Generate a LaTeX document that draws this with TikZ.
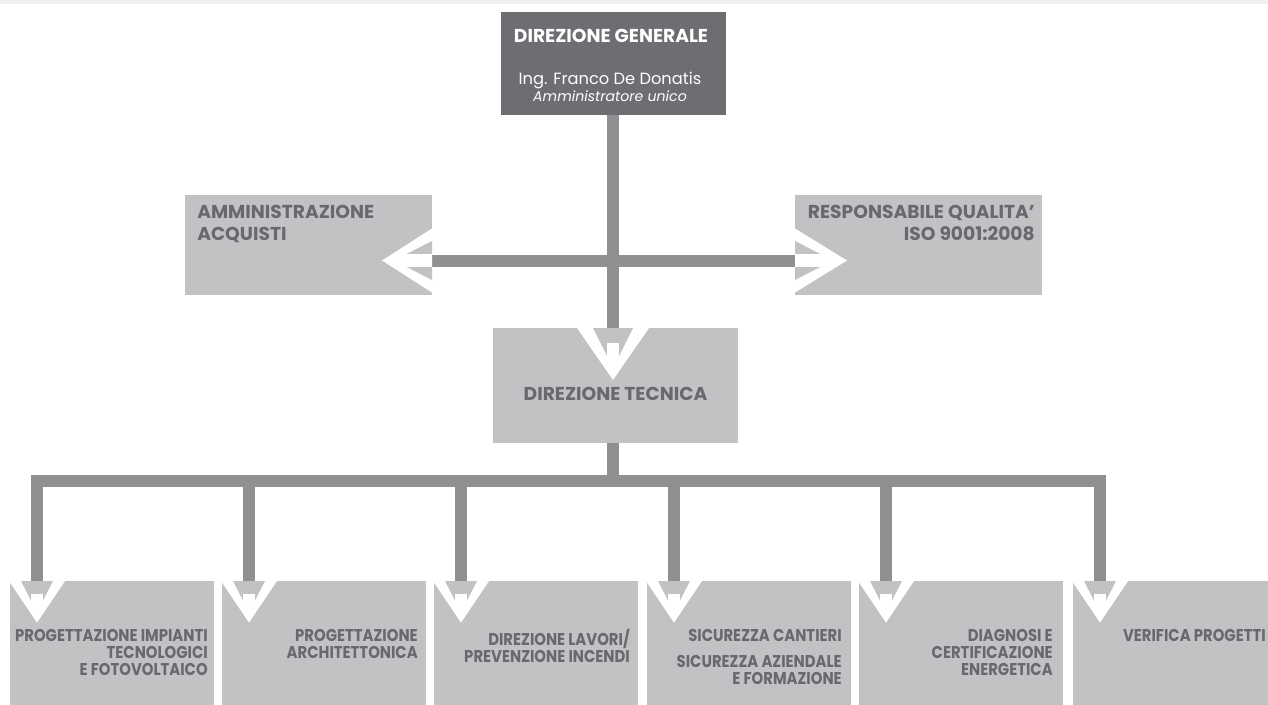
\documentclass[tikz,border=0pt]{standalone}
\usepackage{fontspec}
\setmainfont{Poppins}
\newfontfamily\narrowfont[FakeStretch=0.87]{Poppins}
\usetikzlibrary{calc}

\definecolor{darkgrey}{RGB}{109,110,113}
\definecolor{boxgrey}{RGB}{192,194,196}
\definecolor{linegrey}{RGB}{142,144,146}
\definecolor{textgrey}{RGB}{104,105,108}
\definecolor{bandgrey}{RGB}{240,240,240}

\tikzset{
  box/.style={fill=boxgrey, inner sep=0pt, outer sep=0pt},
  conn/.style={draw=linegrey, line width=9pt},
  headtext/.style={text=white, inner sep=0pt, font=\fontsize{14}{16.5}\selectfont\bfseries},
  boxtext/.style={text=textgrey, inner sep=0pt, align=left, font=\fontsize{14}{16.5}\selectfont\bfseries},
  unittext/.style={text=textgrey, inner sep=0pt, align=right, anchor=north east, font=\narrowfont\fontsize{12.8}{12.75}\selectfont\bfseries}
}

\begin{document}
\begin{tikzpicture}[x=0.75pt,y=0.75pt,yscale=-1,xscale=1]
\useasboundingbox (0,0) rectangle (1268,704);
\clip (0,0) rectangle (1268,704);
\fill[bandgrey] (0,0) rectangle (1268,4);

% Boxes
\node[box, fill=darkgrey, minimum width=168.75pt, minimum height=77.25pt] (dg) at (613.5,63.5) {};
\node[box, minimum width=185.25pt, minimum height=75pt] (aa) at (308.5,245) {};
\node[box, minimum width=185.25pt, minimum height=75pt] (rq) at (918.5,245) {};
\node[box, minimum width=183.75pt, minimum height=86.25pt] (dt) at (615.5,385.5) {};
\foreach \i/\bx in {1/10,2/222,3/434,4/647,5/859,6/1073}{
  \node[box, anchor=north west, minimum width=153pt, minimum height=105pt] (b\i) at (\bx,581) {};
  \coordinate (d\i) at ({\bx+27},581);
}

% Connectors
\coordinate (hub) at (613,260.5);
\coordinate (bus) at (613,481);
\draw[conn] (hub |- dg.south) -- (hub |- dt.north);
\draw[conn] (hub -| aa.east) -- (hub -| rq.west);
\draw[conn] (hub |- dt.south) -- (bus);
\draw[conn, line join=miter] (d1) -- (d1 |- bus) -- (d6 |- bus) -- (d6);
\foreach \i in {2,...,5}
  \draw[conn] (d\i |- bus) -- (d\i);

% Arrow heads
\foreach \dx in {37,249,461,674,886,1100}{
  \begin{scope}[shift={(\dx,581)}, scale=0.8]
    \fill[white] (-35,0) -- (0,52) -- (35,0) -- cycle;
    \fill[boxgrey] (-20,0) -- (0,39) -- (20,0) -- cycle;
    \fill[white] (-7,16) rectangle (7,40);
  \end{scope}
}
\begin{scope}[shift={(613,328)}]
  \fill[white] (-36,0) -- (0,52) -- (36,0) -- cycle;
  \fill[boxgrey] (-20,0) -- (0,40) -- (20,0) -- cycle;
  \fill[white] (-6,15) rectangle (6,41);
\end{scope}
\fill[white] (432,228.5) -- (382,260.5) -- (432,292.5) -- cycle;
\fill[boxgrey] (432,241) -- (394,260.5) -- (432,280) -- cycle;
\fill[white] (392,254) rectangle (432,267);
\fill[white] (795,228.5) -- (847,260.5) -- (795,292.5) -- cycle;
\fill[boxgrey] (795,241) -- (833,260.5) -- (795,280) -- cycle;
\fill[white] (795,254) rectangle (835,267);

% Text Node
\node[headtext, anchor=base] (dgt) at (611,42) {DIREZIONE GENERALE};
\node[text=white, inner sep=0pt, anchor=base, font=\fontsize{12.2}{14}\selectfont] (dgn) at (610,84) {Ing. Franco De Donatis};
\node[text=white, inner sep=0pt, anchor=base, font=\fontsize{10.6}{13}\selectfont\itshape] (dgr) at (610,101) {Amministratore unico};
\node[boxtext, anchor=north west] (aat) at (197,205) {AMMINISTRAZIONE\\ACQUISTI};
\node[boxtext, align=right, anchor=north east] (rqt) at (1035,205) {RESPONSABILE QUALITA\char"0027\\ISO 9001:2008};
\node[boxtext, anchor=base] (dtt) at (615.5,400) {DIREZIONE TECNICA};
\node[unittext] (bt1) at (208,629) {PROGETTAZIONE IMPIANTI\\TECNOLOGICI\\E FOTOVOLTAICO};
\node[unittext] (bt2) at (418,629) {PROGETTAZIONE\\ARCHITETTONICA};
\node[unittext] (bt3) at (630,629) {DIREZIONE LAVORI/\\PREVENZIONE INCENDI};
\node[unittext] (bt4) at (842,629) {SICUREZZA CANTIERI\\[6.75pt]SICUREZZA AZIENDALE\\E FORMAZIONE};
\node[unittext] (bt5) at (1053,629) {DIAGNOSI E\\CERTIFICAZIONE\\ENERGETICA};
\node[unittext] (bt6) at (1266,629) {VERIFICA PROGETTI};

\end{tikzpicture}
\end{document}
